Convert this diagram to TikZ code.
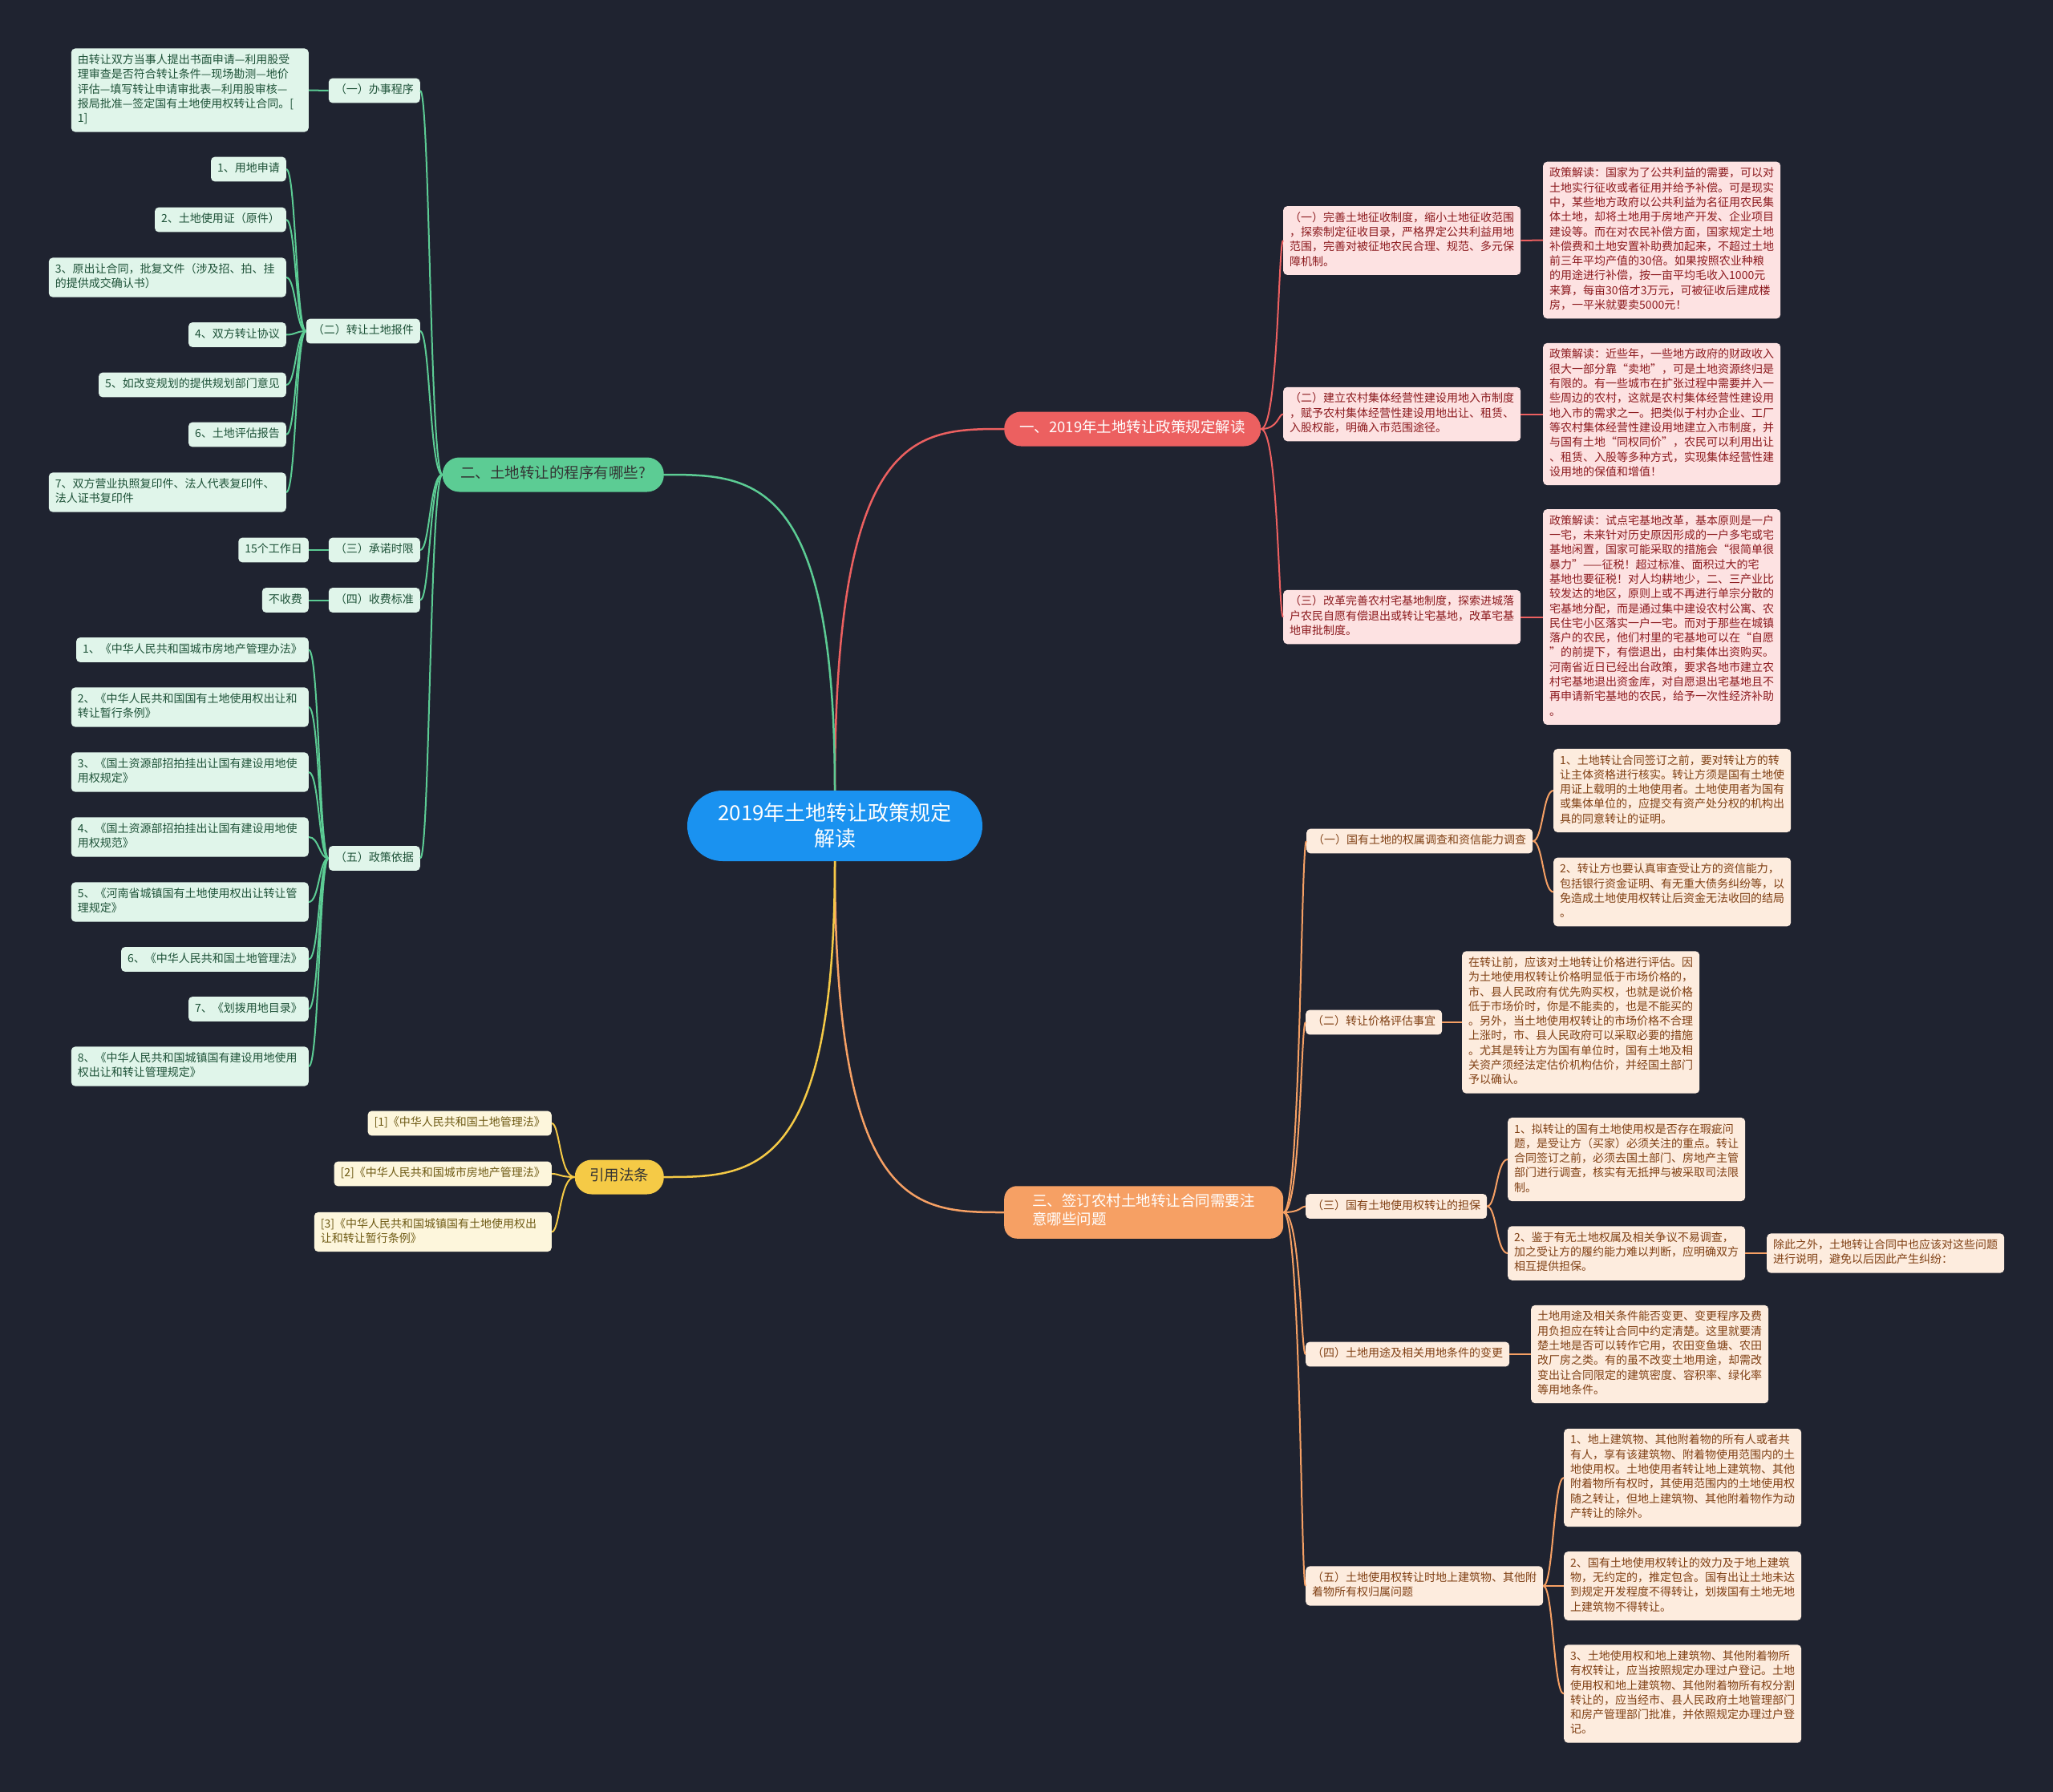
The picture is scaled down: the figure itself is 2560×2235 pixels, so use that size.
\documentclass[tikz,border=0pt]{standalone}
\usepackage{fontspec}
\setmainfont{Noto Sans CJK SC}
\definecolor{bgcol}{RGB}{31,35,48}
\definecolor{ctrfill}{RGB}{26,146,240}
\definecolor{gcol}{RGB}{92,204,148}
\definecolor{gfill}{RGB}{224,245,234}
\definecolor{gtext}{RGB}{30,82,56}
\definecolor{rcol}{RGB}{236,96,96}
\definecolor{rfill}{RGB}{253,226,226}
\definecolor{rtext}{RGB}{140,26,30}
\definecolor{ocol}{RGB}{246,160,100}
\definecolor{ofill}{RGB}{253,236,222}
\definecolor{otext}{RGB}{128,64,20}
\definecolor{ycol}{RGB}{245,202,70}
\definecolor{yfill}{RGB}{253,246,220}
\definecolor{ytext}{RGB}{110,90,20}
\begin{document}
\begin{tikzpicture}
    [x=1pt,y=-1pt,
    leaf/.style={rounded corners=5pt,align=left,inner xsep=8pt,inner ysep=6.3pt,
      font=\fontsize{14}{18.3}\selectfont,execute at begin node=\strut,execute at end node=\strut},
    wide/.style={text width=280pt},
    gleaf/.style={leaf,fill=gfill,text=gtext},
    yleaf/.style={leaf,fill=yfill,text=ytext},
    rleaf/.style={leaf,fill=rfill,text=rtext},
    oleaf/.style={leaf,fill=ofill,text=otext},
    bnode/.style={rounded corners=21pt,align=left,inner xsep=18pt,inner ysep=10pt,
      font=\fontsize{18.5}{23}\selectfont,execute at begin node=\strut,execute at end node=\strut},
    gline/.style={draw=gcol,line width=2pt},
    rline/.style={draw=rcol,line width=2pt},
    oline/.style={draw=ocol,line width=2pt},
    yline/.style={draw=ycol,line width=2pt}]
    %background
    \fill[bgcol] (0,0) rectangle (2560,2235);
    \useasboundingbox (0,0) rectangle (2560,2235);
    %centre
    \node[fill=ctrfill,text=white,rounded corners=44pt,align=center,minimum width=368pt,
      minimum height=88pt,font=\fontsize{26}{32}\selectfont] (ctr) at (1041,1030)
      {2019年土地转让政策规定\\解读};
    %main branches
    \node[bnode,fill=rcol,text=white,minimum width=320pt,anchor=west] (b1) at (1252,535) {一、2019年土地转让政策规定解读};
    \node[bnode,fill=gcol,text=black!80,minimum width=276pt,anchor=east] (b2) at (828,592) {二、土地转让的程序有哪些?};
    \node[bnode,fill=ocol,text=white,rounded corners=16pt,minimum width=348pt,anchor=west] (b3) at (1252,1512)
      {三、签订农村土地转让合同需要注\\意哪些问题};
    \node[bnode,fill=ycol,text=black!80,minimum width=111pt,anchor=east] (b4) at (828,1468) {引用法条};
    \draw[rcol,line width=2.5pt] (ctr.north) .. controls (ctr.north |- b1.west) and ([xshift=-110pt]b1.west) .. (b1.west);
    \draw[gcol,line width=2.5pt] (ctr.north) .. controls (ctr.north |- b2.east) and ([xshift=110pt]b2.east) .. (b2.east);
    \draw[ocol,line width=2.5pt] (ctr.south) .. controls (ctr.south |- b3.west) and ([xshift=-110pt]b3.west) .. (b3.west);
    \draw[ycol,line width=2.5pt] (ctr.south) .. controls (ctr.south |- b4.east) and ([xshift=110pt]b4.east) .. (b4.east);
    %green sub branches
    \node[gleaf,anchor=east] (g1) at (524,113) {（一）办事程序};
    \node[gleaf,anchor=east] (g2) at (524,413) {（二）转让土地报件};
    \node[gleaf,anchor=east] (g3) at (524,686) {（三）承诺时限};
    \node[gleaf,anchor=east] (g4) at (524,748.5) {（四）收费标准};
    \node[gleaf,anchor=east] (g5) at (524,1070.5) {（五）政策依据};
    \coordinate (gtrunk) at (536,0);
    \draw[gline] (b2.west) .. controls (gtrunk |- b2.west) and (gtrunk |- g1.east) .. (g1.east);
    \draw[gline] (b2.west) .. controls (gtrunk |- b2.west) and (gtrunk |- g2.east) .. (g2.east);
    \draw[gline] (b2.west) .. controls (gtrunk |- b2.west) and (gtrunk |- g3.east) .. (g3.east);
    \draw[gline] (b2.west) .. controls (gtrunk |- b2.west) and (gtrunk |- g4.east) .. (g4.east);
    \draw[gline] (b2.west) .. controls (gtrunk |- b2.west) and (gtrunk |- g5.east) .. (g5.east);
    %green leaves
    \node[gleaf,wide,anchor=east] (g1a) at (385,112.5)
      {由转让双方当事人提出书面申请—利用股受\\理审查是否符合转让条件—现场勘测—地价\\评估—填写转让申请审批表—利用股审核—\\报局批准—签定国有土地使用权转让合同。[\\1]};
    \draw[gline] (g1.west) -- (g1a.east);
    \node[gleaf,anchor=east] (i1) at (357,211) {1、用地申请};
    \node[gleaf,anchor=east] (i2) at (357,274) {2、土地使用证（原件）};
    \node[gleaf,wide,anchor=east] (i3) at (357,346) {3、原出让合同，批复文件（涉及招、拍、挂\\的提供成交确认书）};
    \node[gleaf,anchor=east] (i4) at (357,417.5) {4、双方转让协议};
    \node[gleaf,anchor=east] (i5) at (357,480) {5、如改变规划的提供规划部门意见};
    \node[gleaf,anchor=east] (i6) at (357,542) {6、土地评估报告};
    \node[gleaf,wide,anchor=east] (i7) at (357,614) {7、双方营业执照复印件、法人代表复印件、\\法人证书复印件};
    \coordinate (g2br) at (369,0);
    \draw[gline] (g2.west) .. controls (g2br |- g2.west) and (g2br |- i1.east) .. (i1.east);
    \draw[gline] (g2.west) .. controls (g2br |- g2.west) and (g2br |- i2.east) .. (i2.east);
    \draw[gline] (g2.west) .. controls (g2br |- g2.west) and (g2br |- i3.east) .. (i3.east);
    \draw[gline] (g2.west) .. controls (g2br |- g2.west) and (g2br |- i4.east) .. (i4.east);
    \draw[gline] (g2.west) .. controls (g2br |- g2.west) and (g2br |- i5.east) .. (i5.east);
    \draw[gline] (g2.west) .. controls (g2br |- g2.west) and (g2br |- i6.east) .. (i6.east);
    \draw[gline] (g2.west) .. controls (g2br |- g2.west) and (g2br |- i7.east) .. (i7.east);
    \node[gleaf,anchor=east] (g3a) at (385,686) {15个工作日};
    \node[gleaf,anchor=east] (g4a) at (385,748.5) {不收费};
    \draw[gline] (g3.west) -- (g3a.east);
    \draw[gline] (g4.west) -- (g4a.east);
    \node[gleaf,anchor=east] (p1) at (385,810.5) {1、《中华人民共和国城市房地产管理办法》};
    \node[gleaf,wide,anchor=east] (p2) at (385,882) {2、《中华人民共和国国有土地使用权出让和\\转让暂行条例》};
    \node[gleaf,wide,anchor=east] (p3) at (385,963) {3、《国土资源部招拍挂出让国有建设用地使\\用权规定》};
    \node[gleaf,wide,anchor=east] (p4) at (385,1044) {4、《国土资源部招拍挂出让国有建设用地使\\用权规范》};
    \node[gleaf,wide,anchor=east] (p5) at (385,1125) {5、《河南省城镇国有土地使用权出让转让管\\理规定》};
    \node[gleaf,anchor=east] (p6) at (385,1196.5) {6、《中华人民共和国土地管理法》};
    \node[gleaf,anchor=east] (p7) at (385,1258.5) {7、《划拨用地目录》};
    \node[gleaf,wide,anchor=east] (p8) at (385,1330) {8、《中华人民共和国城镇国有建设用地使用\\权出让和转让管理规定》};
    \coordinate (g5br) at (398,0);
    \draw[gline] (g5.west) .. controls (g5br |- g5.west) and (g5br |- p1.east) .. (p1.east);
    \draw[gline] (g5.west) .. controls (g5br |- g5.west) and (g5br |- p2.east) .. (p2.east);
    \draw[gline] (g5.west) .. controls (g5br |- g5.west) and (g5br |- p3.east) .. (p3.east);
    \draw[gline] (g5.west) .. controls (g5br |- g5.west) and (g5br |- p4.east) .. (p4.east);
    \draw[gline] (g5.west) .. controls (g5br |- g5.west) and (g5br |- p5.east) .. (p5.east);
    \draw[gline] (g5.west) .. controls (g5br |- g5.west) and (g5br |- p6.east) .. (p6.east);
    \draw[gline] (g5.west) .. controls (g5br |- g5.west) and (g5br |- p7.east) .. (p7.east);
    \draw[gline] (g5.west) .. controls (g5br |- g5.west) and (g5br |- p8.east) .. (p8.east);
    %yellow leaves
    \node[yleaf,anchor=east] (y1) at (688,1401) {[1]《中华人民共和国土地管理法》};
    \node[yleaf,anchor=east] (y2) at (688,1464) {[2]《中华人民共和国城市房地产管理法》};
    \node[yleaf,wide,anchor=east] (y3) at (688,1536.5) {[3]《中华人民共和国城镇国有土地使用权出\\让和转让暂行条例》};
    \coordinate (b4br) at (698,0);
    \draw[yline] (b4.west) .. controls (b4br |- b4.west) and (b4br |- y1.east) .. (y1.east);
    \draw[yline] (b4.west) .. controls (b4br |- b4.west) and (b4br |- y2.east) .. (y2.east);
    \draw[yline] (b4.west) .. controls (b4br |- b4.west) and (b4br |- y3.east) .. (y3.east);
    %red sub branches
    \node[rleaf,wide,anchor=west] (r1) at (1600,300)
      {（一）完善土地征收制度，缩小土地征收范围\\，探索制定征收目录，严格界定公共利益用地\\范围，完善对被征地农民合理、规范、多元保\\障机制。};
    \node[rleaf,wide,anchor=west] (r2) at (1600,516.5)
      {（二）建立农村集体经营性建设用地入市制度\\，赋予农村集体经营性建设用地出让、租赁、\\入股权能，明确入市范围途径。};
    \node[rleaf,wide,anchor=west] (r3) at (1600,769.5)
      {（三）改革完善农村宅基地制度，探索进城落\\户农民自愿有偿退出或转让宅基地，改革宅基\\地审批制度。};
    \coordinate (rtrunk) at (1594,0);
    \draw[rline] (b1.east) .. controls (rtrunk |- b1.east) and (rtrunk |- r1.west) .. (r1.west);
    \draw[rline] (b1.east) .. controls (rtrunk |- b1.east) and (rtrunk |- r2.west) .. (r2.west);
    \draw[rline] (b1.east) .. controls (rtrunk |- b1.east) and (rtrunk |- r3.west) .. (r3.west);
    %red leaves
    \node[rleaf,wide,anchor=west] (r1a) at (1924,299.5)
      {政策解读：国家为了公共利益的需要，可以对\\土地实行征收或者征用并给予补偿。可是现实\\中，某些地方政府以公共利益为名征用农民集\\体土地，却将土地用于房地产开发、企业项目\\建设等。而在对农民补偿方面，国家规定土地\\补偿费和土地安置补助费加起来，不超过土地\\前三年平均产值的30倍。如果按照农业种粮\\的用途进行补偿，按一亩平均毛收入1000元\\来算，每亩30倍才3万元，可被征收后建成楼\\房，一平米就要卖5000元！};
    \node[rleaf,wide,anchor=west] (r2a) at (1924,516.5)
      {政策解读：近些年，一些地方政府的财政收入\\很大一部分靠“卖地”，可是土地资源终归是\\有限的。有一些城市在扩张过程中需要并入一\\些周边的农村，这就是农村集体经营性建设用\\地入市的需求之一。把类似于村办企业、工厂\\等农村集体经营性建设用地建立入市制度，并\\与国有土地“同权同价”，农民可以利用出让\\、租赁、入股等多种方式，实现集体经营性建\\设用地的保值和增值！};
    \node[rleaf,wide,anchor=west] (r3a) at (1924,769.5)
      {政策解读：试点宅基地改革，基本原则是一户\\一宅，未来针对历史原因形成的一户多宅或宅\\基地闲置，国家可能采取的措施会“很简单很\\暴力”——征税！超过标准、面积过大的宅\\基地也要征税！对人均耕地少，二、三产业比\\较发达的地区，原则上或不再进行单宗分散的\\宅基地分配，而是通过集中建设农村公寓、农\\民住宅小区落实一户一宅。而对于那些在城镇\\落户的农民，他们村里的宅基地可以在“自愿\\”的前提下，有偿退出，由村集体出资购买。\\河南省近日已经出台政策，要求各地市建立农\\村宅基地退出资金库，对自愿退出宅基地且不\\再申请新宅基地的农民，给予一次性经济补助\\。};
    \draw[rline] (r1.east) -- (r1a.west);
    \draw[rline] (r2.east) -- (r2a.west);
    \draw[rline] (r3.east) -- (r3a.west);
    %orange sub branches
    \node[oleaf,anchor=west] (o1) at (1629,1049) {（一）国有土地的权属调查和资信能力调查};
    \node[oleaf,anchor=west] (o2) at (1628,1275) {（二）转让价格评估事宜};
    \node[oleaf,anchor=west] (o3) at (1628,1504.5) {（三）国有土地使用权转让的担保};
    \node[oleaf,anchor=west] (o4) at (1628,1689) {（四）土地用途及相关用地条件的变更};
    \node[oleaf,wide,anchor=west] (o5) at (1628,1978) {（五）土地使用权转让时地上建筑物、其他附\\着物所有权归属问题};
    \coordinate (otrunk) at (1622,0);
    \draw[oline] (b3.east) .. controls (otrunk |- b3.east) and (otrunk |- o1.west) .. (o1.west);
    \draw[oline] (b3.east) .. controls (otrunk |- b3.east) and (otrunk |- o2.west) .. (o2.west);
    \draw[oline] (b3.east) .. controls (otrunk |- b3.east) and (otrunk |- o3.west) .. (o3.west);
    \draw[oline] (b3.east) .. controls (otrunk |- b3.east) and (otrunk |- o4.west) .. (o4.west);
    \draw[oline] (b3.east) .. controls (otrunk |- b3.east) and (otrunk |- o5.west) .. (o5.west);
    %orange leaves
    \node[oleaf,wide,anchor=west] (o1a) at (1937,986)
      {1、土地转让合同签订之前，要对转让方的转\\让主体资格进行核实。转让方须是国有土地使\\用证上载明的土地使用者。土地使用者为国有\\或集体单位的，应提交有资产处分权的机构出\\具的同意转让的证明。};
    \node[oleaf,wide,anchor=west] (o1b) at (1937,1112.5)
      {2、转让方也要认真审查受让方的资信能力，\\包括银行资金证明、有无重大债务纠纷等，以\\免造成土地使用权转让后资金无法收回的结局\\。};
    \coordinate (o1br) at (1924,0);
    \draw[oline] (o1.east) .. controls (o1br |- o1.east) and (o1br |- o1a.west) .. (o1a.west);
    \draw[oline] (o1.east) .. controls (o1br |- o1.east) and (o1br |- o1b.west) .. (o1b.west);
    \node[oleaf,wide,anchor=west] (o2a) at (1823,1275)
      {在转让前，应该对土地转让价格进行评估。因\\为土地使用权转让价格明显低于市场价格的，\\市、县人民政府有优先购买权，也就是说价格\\低于市场价时，你是不能卖的，也是不能买的\\。另外，当土地使用权转让的市场价格不合理\\上涨时，市、县人民政府可以采取必要的措施\\。尤其是转让方为国有单位时，国有土地及相\\关资产须经法定估价机构估价，并经国土部门\\予以确认。};
    \draw[oline] (o2.east) -- (o2a.west);
    \node[oleaf,wide,anchor=west] (o3a) at (1880,1446)
      {1、拟转让的国有土地使用权是否存在瑕疵问\\题，是受让方（买家）必须关注的重点。转让\\合同签订之前，必须去国土部门、房地产主管\\部门进行调查，核实有无抵押与被采取司法限\\制。};
    \node[oleaf,wide,anchor=west] (o3b) at (1880,1563)
      {2、鉴于有无土地权属及相关争议不易调查，\\加之受让方的履约能力难以判断，应明确双方\\相互提供担保。};
    \coordinate (o3br) at (1866,0);
    \draw[oline] (o3.east) .. controls (o3br |- o3.east) and (o3br |- o3a.west) .. (o3a.west);
    \draw[oline] (o3.east) .. controls (o3br |- o3.east) and (o3br |- o3b.west) .. (o3b.west);
    \node[oleaf,wide,anchor=west] (o3c) at (2203,1563)
      {除此之外，土地转让合同中也应该对这些问题\\进行说明，避免以后因此产生纠纷：};
    \draw[oline] (o3b.east) -- (o3c.west);
    \node[oleaf,wide,anchor=west] (o4a) at (1909,1689)
      {土地用途及相关条件能否变更、变更程序及费\\用负担应在转让合同中约定清楚。这里就要清\\楚土地是否可以转作它用，农田变鱼塘、农田\\改厂房之类。有的虽不改变土地用途，却需改\\变出让合同限定的建筑密度、容积率、绿化率\\等用地条件。};
    \draw[oline] (o4.east) -- (o4a.west);
    \node[oleaf,wide,anchor=west] (o5a) at (1950,1843)
      {1、地上建筑物、其他附着物的所有人或者共\\有人，享有该建筑物、附着物使用范围内的土\\地使用权。土地使用者转让地上建筑物、其他\\附着物所有权时，其使用范围内的土地使用权\\随之转让，但地上建筑物、其他附着物作为动\\产转让的除外。};
    \node[oleaf,wide,anchor=west] (o5b) at (1950,1978)
      {2、国有土地使用权转让的效力及于地上建筑\\物，无约定的，推定包含。国有出让土地未达\\到规定开发程度不得转让，划拨国有土地无地\\上建筑物不得转让。};
    \node[oleaf,wide,anchor=west] (o5c) at (1950,2112.5)
      {3、土地使用权和地上建筑物、其他附着物所\\有权转让，应当按照规定办理过户登记。土地\\使用权和地上建筑物、其他附着物所有权分割\\转让的，应当经市、县人民政府土地管理部门\\和房产管理部门批准，并依照规定办理过户登\\记。};
    \coordinate (o5br) at (1937,0);
    \draw[oline] (o5.east) .. controls (o5br |- o5.east) and (o5br |- o5a.west) .. (o5a.west);
    \draw[oline] (o5.east) .. controls (o5br |- o5.east) and (o5br |- o5b.west) .. (o5b.west);
    \draw[oline] (o5.east) .. controls (o5br |- o5.east) and (o5br |- o5c.west) .. (o5c.west);
\end{tikzpicture}
\end{document}
